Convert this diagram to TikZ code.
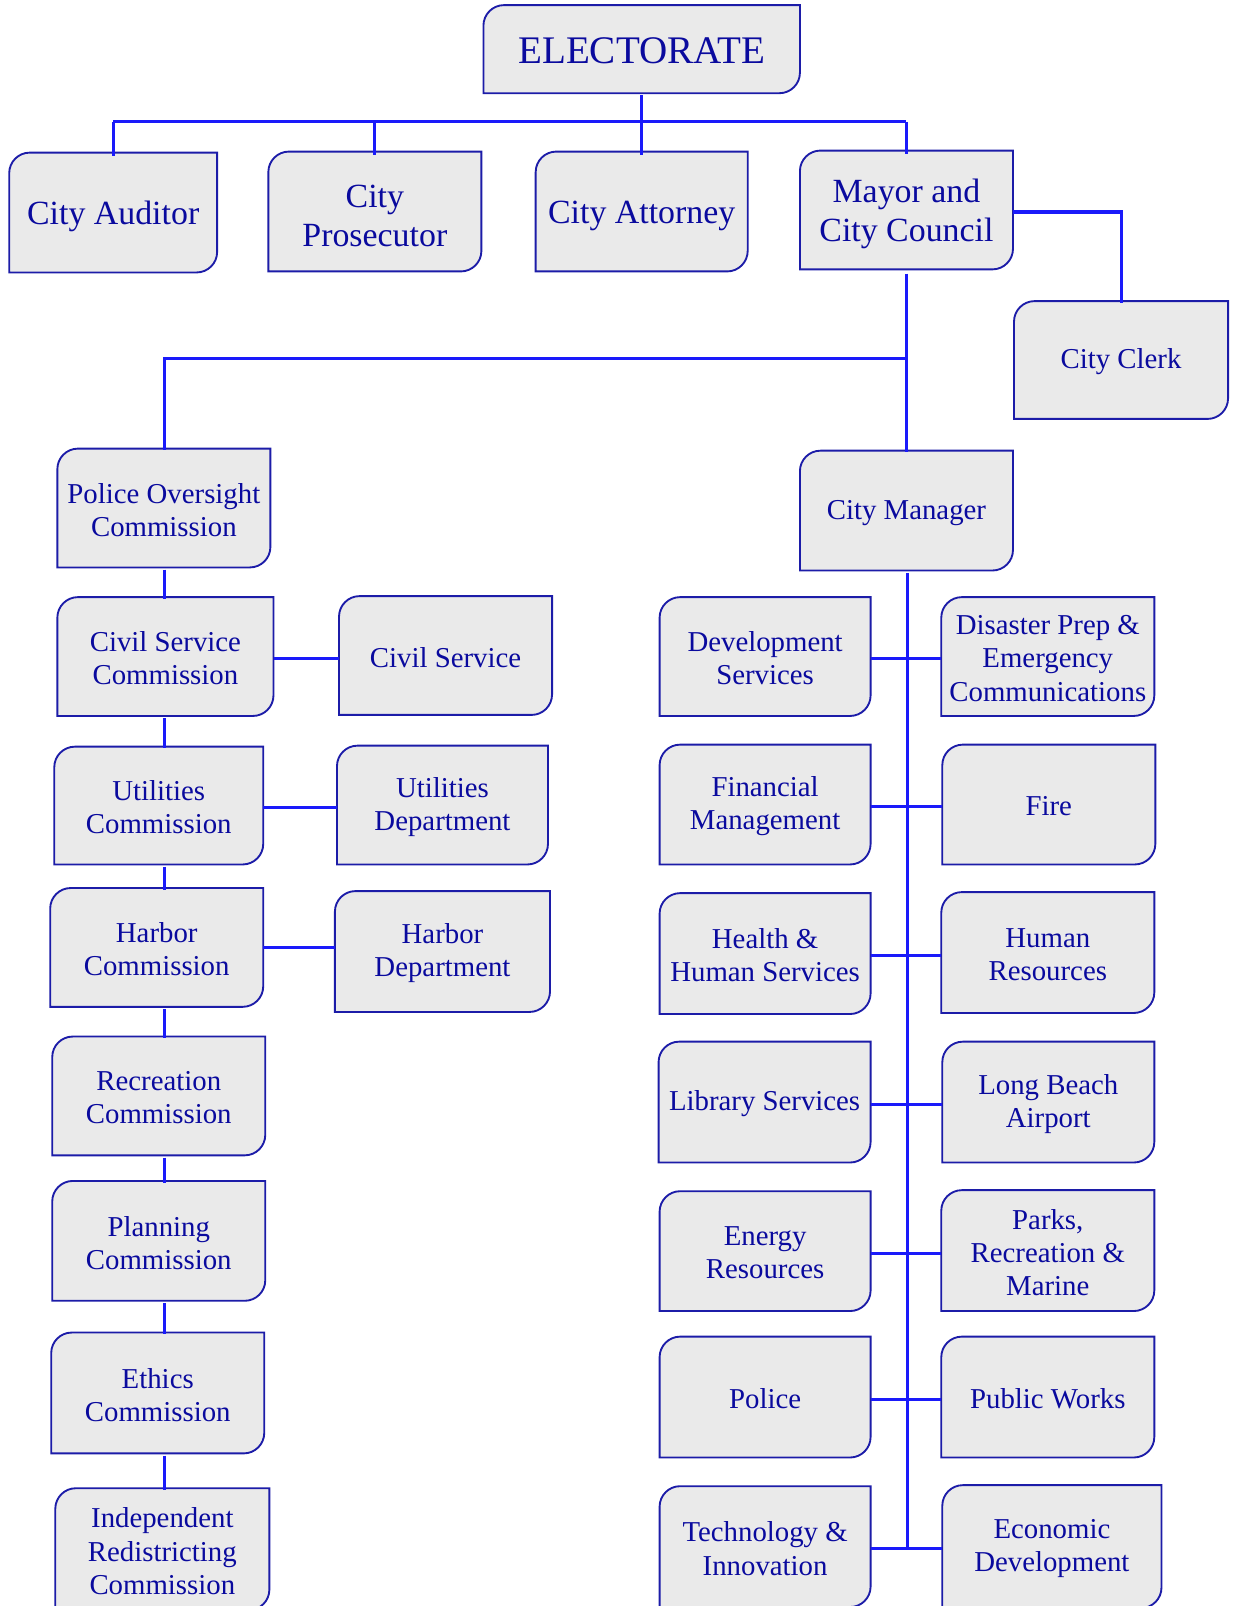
\documentclass[tikz,border=0pt]{standalone}
\usepackage{fontspec}
\setmainfont{Liberation Serif}
\definecolor{txtblue}{HTML}{0A0A9E}
\definecolor{brdblue}{HTML}{1C1CA8}
\definecolor{lnblue}{HTML}{1A1AFA}
\definecolor{boxgray}{HTML}{EAEAEA}
\tikzset{
 boxshape/.style={fill=boxgray, draw=brdblue, line width=1.4pt},
 conn/.style={draw=lnblue, line width=2.3pt},
 bigtxt/.style={font=\fontsize{29.3}{33}\selectfont, yshift=-1.5pt},
 midtxt/.style={font=\fontsize{25.4}{29.2}\selectfont, yshift=-3pt},
 smltxt/.style={font=\fontsize{21.6}{24.8}\selectfont, yshift=-1.5pt},
 boxlabel/.style={text=txtblue, align=center, inner sep=0pt, draw=none},
}
\newcommand\orgbox[7]{%
  \pgfmathsetmacro\obA{#4+20}\pgfmathsetmacro\obB{#4+9}%
  \pgfmathsetmacro\obC{#3+9}\pgfmathsetmacro\obD{#3+20}%
  \pgfmathsetmacro\obE{#6-20}\pgfmathsetmacro\obF{#6-9}%
  \pgfmathsetmacro\obG{#5-9}\pgfmathsetmacro\obH{#5-20}%
  \path[boxshape] (#3,#6) -- (#3,\obA) .. controls (#3,\obB) and (\obC,#4) .. (\obD,#4) -- (#5,#4) -- (#5,\obE) .. controls (#5,\obF) and (\obG,#6) .. (\obH,#6) -- cycle;
  \pgfmathsetmacro\obW{(#5-#3)*0.7681}\pgfmathsetmacro\obHt{(#6-#4)*0.7681}%
  \node[boxlabel,#2,minimum width=\obW pt,minimum height=\obHt pt] (#1) at ({(#3+#5)/2},{(#4+#6)/2}) {#7};
}
\begin{document}
\begin{tikzpicture}[x=0.7681pt,y=-0.7681pt]
\useasboundingbox (0,0) rectangle (1204,1568);
\clip (0,0) rectangle (1204,1568);
% top
\orgbox{elec}{bigtxt}{472}{5}{781}{91}{ELECTORATE}
\orgbox{aud}{midtxt}{9}{149}{212}{266}{City Auditor}
\orgbox{pros}{midtxt}{262}{148}{470}{265}{City\\Prosecutor}
\orgbox{att}{midtxt}{523}{148}{730}{265}{City Attorney}
\orgbox{mayor}{midtxt}{781}{147}{989}{263}{Mayor and\\City Council}
\orgbox{clerk}{smltxt}{990}{294}{1199}{409}{City Clerk}
% left column
\orgbox{pol}{smltxt}{56}{438}{264}{554}{Police Oversight\\Commission}
\orgbox{civc}{smltxt}{56}{583}{267}{699}{Civil Service\\Commission}
\orgbox{civ}{smltxt}{331}{582}{539}{698}{Civil Service}
\orgbox{utc}{smltxt}{53}{729}{257}{844}{Utilities\\Commission}
\orgbox{utd}{smltxt}{329}{728}{535}{844}{Utilities\\Department}
\orgbox{hbc}{smltxt}{49}{867}{257}{983}{Harbor\\Commission}
\orgbox{hbd}{smltxt}{327}{870}{537}{988}{Harbor\\Department}
\orgbox{rec}{smltxt}{51}{1012}{259}{1128}{Recreation\\Commission}
\orgbox{pla}{smltxt}{51}{1153}{259}{1270}{Planning\\Commission}
\orgbox{eth}{smltxt}{50}{1301}{258}{1419}{Ethics\\Commission}
\orgbox{ind}{smltxt}{54}{1453}{263}{1572}{Independent\\Redistricting\\Commission}
% right column
\orgbox{cm}{smltxt}{781}{440}{989}{557}{City Manager}
\orgbox{dev}{smltxt}{644}{583}{850}{699}{Development\\Services}
\orgbox{dis}{smltxt}{919}{583}{1127}{699}{Disaster Prep \&\\Emergency\\Communications}
\orgbox{fin}{smltxt}{644}{727}{850}{844}{Financial\\Management}
\orgbox{fire}{smltxt}{920}{727}{1128}{844}{Fire}
\orgbox{hhs}{smltxt}{644}{872}{850}{990}{Health \&\\Human Services}
\orgbox{hr}{smltxt}{919}{871}{1127}{989}{Human\\Resources}
\orgbox{lib}{smltxt}{643}{1017}{850}{1135}{Library Services}
\orgbox{lba}{smltxt}{920}{1017}{1127}{1135}{Long Beach\\Airport}
\orgbox{ene}{smltxt}{644}{1163}{850}{1280}{Energy\\Resources}
\orgbox{prm}{smltxt}{919}{1162}{1127}{1280}{Parks,\\Recreation \&\\Marine}
\orgbox{police}{smltxt}{644}{1305}{850}{1423}{Police}
\orgbox{pw}{smltxt}{919}{1305}{1127}{1423}{Public Works}
\orgbox{tech}{smltxt}{644}{1451}{850}{1569}{Technology \&\\Innovation}
\orgbox{eco}{smltxt}{920}{1450}{1134}{1570}{Economic\\Development}
% connectors
\coordinate (topbus) at (0,119);
\coordinate (midbus) at (0,350);
\coordinate (leftx) at (161,0);
\coordinate (rightx) at (886,0);
\coordinate (clerkbus) at (0,207);
\coordinate (hbline) at (0,925);
\draw[conn] (elec.south) -- (elec.south |- topbus);
\draw[conn] (aud.north |- topbus) -- (mayor.north |- topbus);
\draw[conn] (aud.north |- topbus) -- (aud.north);
\draw[conn] (pros.north |- topbus) -- (pros.north);
\draw[conn] (att.north |- topbus) -- (att.north);
\draw[conn] (mayor.north |- topbus) -- (mayor.north);
\draw[conn] (mayor.east |- clerkbus) -| (clerk.north);
\draw[conn] (mayor.south) -- (cm.north);
\draw[conn] (mayor.south |- midbus) -- (leftx |- midbus) -- (leftx |- pol.north);
\draw[conn] (leftx |- pol.south) -- (leftx |- civc.north);
\draw[conn] (leftx |- civc.south) -- (leftx |- utc.north);
\draw[conn] (leftx |- utc.south) -- (leftx |- hbc.north);
\draw[conn] (leftx |- hbc.south) -- (leftx |- rec.north);
\draw[conn] (leftx |- rec.south) -- (leftx |- pla.north);
\draw[conn] (leftx |- pla.south) -- (leftx |- eth.north);
\draw[conn] (leftx |- eth.south) -- (leftx |- ind.north);
\draw[conn] (civc.east) -- (civ.west |- civc.east);
\draw[conn] (utc.east) -- (utd.west |- utc.east);
\draw[conn] (hbc.east |- hbline) -- (hbd.west |- hbline);
\draw[conn] (rightx |- cm.south) -- (rightx |- tech.east);
\draw[conn] (dev.east) -- (dis.west |- dev.east);
\draw[conn] (fin.east) -- (fire.west |- fin.east);
\draw[conn] (hhs.east) -- (hr.west |- hhs.east);
\draw[conn] (lib.east) -- (lba.west |- lib.east);
\draw[conn] (ene.east) -- (prm.west |- ene.east);
\draw[conn] (police.east) -- (pw.west |- police.east);
\draw[conn] (tech.east) -- (eco.west |- tech.east);
\end{tikzpicture}
\end{document}
